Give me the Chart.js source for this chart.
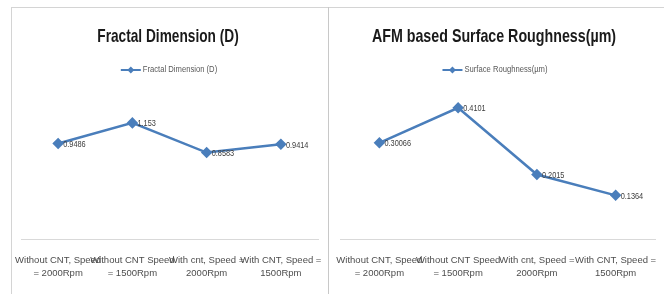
<!DOCTYPE html>
<html>
<head>
<meta charset="utf-8">
<script src="https://cdn.jsdelivr.net/npm/chart.js@4.4.1/dist/chart.umd.min.js"></script>
<style>
  body { margin: 0; background: #fff; }
  .frame { position: absolute; left: 11px; top: 7px; width: 652px; height: 290px;
           border-left: 1px solid #d4d4d4; border-top: 1px solid #d4d4d4; border-right: 1px solid #d4d4d4; }
  .divider { position: absolute; left: 328px; top: 7px; width: 1px; height: 290px; background: #c8c8c8; }
  .panel { position: absolute; top: 8px; height: 286px; }
</style>
</head>
<body>
<div class="frame"></div>
<div class="divider"></div>
<div class="panel" style="left:12px;width:316px"><canvas id="fractalChart"></canvas></div>
<div class="panel" style="left:329px;width:334px"><canvas id="roughChart"></canvas></div>
<script>
// categories (same for both charts, wrapped as in the original)
const fractalLabels = [
  ['Without CNT, Speed', '= 2000Rpm'],
  ['Without CNT Speed', '= 1500Rpm'],
  ['With cnt, Speed =', '2000Rpm'],
  ['With CNT, Speed =', '1500Rpm']
];
const roughLabels = fractalLabels;

const fractalValues = [0.9486, 1.153, 0.8583, 0.9414];
const fractalText = ['0.9486', '1.153', '0.8583', '0.9414'];
const roughValues = [0.30066, 0.4101, 0.2015, 0.1364];
const roughText = ['0.30066', '0.4101', '0.2015', '0.1364'];

const blue = '#4A7EBB';
const sans = '"Liberation Sans", Arial, sans-serif';

// no narrow font installed, so squeeze text sideways a bit (office charts use Calibri)
function narrowText(ctx, str, x, y, align, squeeze) {
  ctx.save();
  ctx.translate(x, y);
  ctx.scale(squeeze, 1);
  ctx.textAlign = align;
  ctx.fillText(str, 0, 0);
  ctx.restore();
}

// title, legend (line + diamond) and the value labels
const decorations = {
  id: 'decorations',
  afterDatasetsDraw(chart, args, opts) {
    const ctx = chart.ctx;
    const cx = chart.width / 2 - 1;
    ctx.save();
    ctx.textBaseline = 'middle';

    // title
    ctx.fillStyle = '#1a1a1a';
    ctx.font = 'bold 19px ' + sans;
    narrowText(ctx, opts.title, cx - 1, 29, 'center', opts.squeeze);

    // legend
    ctx.font = '9px ' + sans;
    const tw = ctx.measureText(opts.series).width * 0.85;
    const total = 20 + 2 + tw;
    const lx = cx - total / 2;
    const ly = 62;
    ctx.strokeStyle = blue;
    ctx.lineWidth = 2;
    ctx.beginPath(); ctx.moveTo(lx, ly); ctx.lineTo(lx + 20, ly); ctx.stroke();
    ctx.fillStyle = blue;
    ctx.beginPath();
    ctx.moveTo(lx + 10, ly - 3.5); ctx.lineTo(lx + 13.5, ly); ctx.lineTo(lx + 10, ly + 3.5); ctx.lineTo(lx + 6.5, ly);
    ctx.closePath(); ctx.fill();
    ctx.fillStyle = '#595959';
    narrowText(ctx, opts.series, lx + 22, ly, 'left', 0.85);

    // value labels to the right of each point
    ctx.fillStyle = '#404040';
    ctx.font = '9px ' + sans;
    chart.getDatasetMeta(0).data.forEach((pt, i) => {
      narrowText(ctx, opts.text[i], pt.x + 5, pt.y + 1, 'left', 0.82);
    });
    ctx.restore();
  }
};

function makeChart(id, title, seriesName, labels, values, text, yMax, pad, squeeze) {
  const ctx = document.getElementById(id).getContext('2d');
  return new Chart(ctx, {
    type: 'line',
    data: {
      labels: labels,
      datasets: [{
        label: seriesName,
        data: values,
        borderColor: blue,
        backgroundColor: blue,
        borderWidth: 2.5,
        pointStyle: 'rectRot',
        pointRadius: 4,
        pointBackgroundColor: blue,
        pointBorderColor: blue,
        tension: 0
      }]
    },
    options: {
      responsive: true,
      maintainAspectRatio: false,
      animation: false,
      layout: { padding: pad },
      plugins: {
        title: { display: false },
        legend: { display: false },
        tooltip: { enabled: false },
        decorations: { title: title, series: seriesName, text: text, squeeze: squeeze }
      },
      scales: {
        x: {
          offset: true,
          grid: { display: false, drawTicks: false },
          border: { display: true, color: '#d9d9d9', width: 1 },
          ticks: {
            color: '#4d4d4d',
            font: { family: sans, size: 9.5, lineHeight: 1.45 },
            maxRotation: 0, autoSkip: false, padding: 14
          },
          afterFit(scale) { scale.paddingLeft = 0; scale.paddingRight = 0; scale.height = 55; }
        },
        y: { display: false, min: 0, max: yMax }
      }
    },
    plugins: [decorations]
  });
}

makeChart('fractalChart', 'Fractal Dimension (D)', 'Fractal Dimension (D)', fractalLabels, fractalValues, fractalText, 1.4,
  { left: 9, right: 10, top: 90, bottom: 0 }, 0.72);
makeChart('roughChart', 'AFM based Surface Roughness(\u00b5m)', 'Surface Roughness(\u00b5m)', roughLabels, roughValues, roughText, 0.45,
  { left: 11, right: 8, top: 87, bottom: 0 }, 0.75);
</script>
</body>
</html>
